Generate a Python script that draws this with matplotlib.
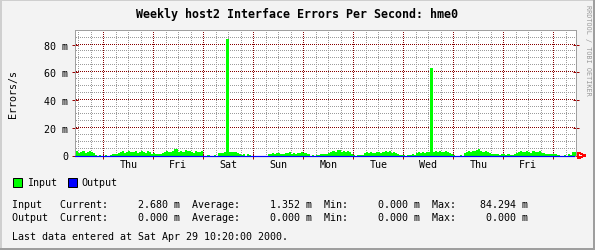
import matplotlib
matplotlib.use("Agg")
import matplotlib.pyplot as plt
from matplotlib.patches import Rectangle, Polygon
from matplotlib.transforms import blended_transform_factory
import numpy as np

# ---------------- data ----------------
title = "Weekly host2 Interface Errors Per Second: hme0"
y_label = "Errors/s"
day_labels = ["Thu", "Fri", "Sat", "Sun", "Mon", "Tue", "Wed", "Thu", "Fri"]
ytick_values = [0, 20, 40, 60, 80]
ytick_labels = ["0", "20 m", "40 m", "60 m", "80 m"]

# hourly input errors (milli errors/s), starting Wed Apr 19 2000 10:00
first_hour = 10
input_wed = [2.8, 3.2, 2.0, 2.5, 3.0, 1.8, 2.6, 3.4, 2.2, 1.5, 0.3, 0.0, 0.2, 0.0]
input_thu = [0.0, 0.3, 0.0, 0.5, 1.0, 1.4, 0.8, 1.5, 2.5, 3.0, 2.0, 2.8,
             3.4, 2.2, 2.6, 3.1, 2.0, 2.7, 3.3, 2.4, 1.8, 2.9, 2.2, 1.2]
input_fri = [1.5, 1.2, 0.8, 1.4, 2.0, 2.6, 3.0, 2.2, 2.8, 3.5, 4.6, 5.0,
             2.4, 3.2, 2.6, 4.2, 2.9, 3.4, 2.5, 2.0, 3.1, 2.4, 2.8, 3.0]
input_sat = [0.0, 0.0, 0.2, 0.0, 0.0, 0.3, 0.0, 1.5, 2.0, 1.6, 2.2, 2.0,
             2.5, 2.8, 2.2, 2.6, 2.0, 1.0, 0.6, 1.2, 0.0, 0.8, 0.5, 0.0]
input_sun = [0.0, 0.0, 0.0, 0.0, 0.0, 0.0, 0.0, 0.8, 1.2, 1.6, 1.0, 1.8,
             2.0, 1.4, 1.2, 1.9, 1.5, 2.2, 1.0, 1.6, 1.3, 2.0, 1.5, 2.2]
input_mon = [2.0, 1.8, 1.0, 0.0, 0.4, 0.0, 0.3, 0.6, 0.8, 1.0, 1.4, 1.2,
             1.6, 2.5, 3.0, 2.2, 3.8, 4.2, 2.8, 3.5, 2.4, 3.0, 2.6, 1.0]
input_tue = [0.3, 0.0, 0.5, 0.2, 0.6, 1.5, 2.2, 1.8, 2.6, 2.0, 1.6, 2.4,
             2.8, 1.9, 2.2, 3.0, 2.5, 3.4, 2.0, 2.6, 1.8, 0.8, 0.6, 0.5]
input_wed2 = [0.3, 0.0, 0.6, 0.2, 0.8, 0.5, 1.6, 2.4, 2.0, 2.8, 1.8, 2.5,
              2.2, 2.0, 2.6, 3.2, 2.4, 3.6, 2.8, 2.2, 3.0, 2.5, 2.0, 1.4]
input_thu2 = [0.2, 0.0, 0.0, 0.3, 0.0, 1.8, 2.6, 3.2, 2.4, 3.6, 3.0, 4.0,
              4.8, 3.4, 2.8, 3.5, 2.6, 2.0, 1.2, 0.8, 1.4, 1.0, 0.6, 1.0]
input_fri2 = [0.8, 0.5, 1.0, 0.6, 0.4, 0.8, 1.8, 2.4, 3.0, 2.2, 2.8, 3.4,
              2.5, 2.0, 3.2, 2.6, 2.2, 2.9, 2.0, 1.6, 1.2, 0.8, 1.4, 1.0]
input_sat2 = [1.0, 1.2, 0.6, 0.0, 0.0, 0.5, 0.0, 0.8, 0.3, 2.4, 2.68]

# short error bursts (hours since Wed Apr 19 00:00, milli errors/s)
spike_hours = [83.2, 181.2]
spike_values = [84.294, 62.9]

# legend / statistics
series_names = ["Input", "Output"]
series_colors = ["#00ff00", "#0000ff"]
stat_current = [2.680, 0.000]
stat_average = [1.352, 0.000]
stat_min = [0.000, 0.000]
stat_max = [84.294, 0.000]
last_update = "Sat Apr 29 10:20:00 2000"

# ---------------- figure ----------------
W, H = 595, 251
DPI = 100
PX = 72.0 / DPI  # one pixel in points

def fx(px):
    return px / W

def fy(py):
    return 1 - py / H

mono = "DejaVu Sans Mono"
fs = 7.2
bg = "#f3f3f3"

fig = plt.figure(figsize=(W / DPI, H / DPI), dpi=DPI, facecolor=bg)

# 3D-ish frame
fig.patches.append(Rectangle((0, fy(2)), 1, 2 / H, transform=fig.transFigure,
                             facecolor="#cfcfcf", edgecolor="none"))
fig.patches.append(Rectangle((0, 0), 2 / W, 1, transform=fig.transFigure,
                             facecolor="#cfcfcf", edgecolor="none"))
fig.patches.append(Rectangle((0, 0), 1, 2 / H, transform=fig.transFigure,
                             facecolor="#9e9e9e", edgecolor="none"))
fig.patches.append(Rectangle((1 - 2 / W, 0), 2 / W, 1, transform=fig.transFigure,
                             facecolor="#9e9e9e", edgecolor="none"))

ax_left, ax_right, ax_top, ax_bot = 75, 576, 31, 156.5
ax_w_px, ax_h_px = ax_right - ax_left, ax_bot - ax_top
ax = fig.add_axes([fx(ax_left), fy(ax_bot), ax_w_px / W, ax_h_px / H])
ax.set_facecolor("white")

x_start, x_end = 10.4, 250.9
y_top = 90.5
ax.set_xlim(x_start, x_end)
ax.set_ylim(0, y_top)
dx_px = (x_end - x_start) / ax_w_px   # hours per pixel
dy_px = y_top / ax_h_px               # m per pixel

# dotted grid drawn as single pixels every other pixel
grid_gray = "#9c9c9c"
grid_red = "#880000"
midnights = np.arange(24, 250, 24)
six_hours = [h for h in np.arange(12, 251, 6) if h % 24 != 0]
ys_dots = np.arange(dy_px, y_top, 2 * dy_px)
xs_dots = np.arange(x_start + dx_px, x_end, 2 * dx_px)

def vdots(h, col, z):
    ax.plot(np.full_like(ys_dots, h), ys_dots, ls="none", marker=",",
            color=col, zorder=z)

def hdots(v, col, z):
    ax.plot(xs_dots, np.full_like(xs_dots, v), ls="none", marker=",",
            color=col, zorder=z)

for h in six_hours:
    vdots(h, grid_gray, 1)
for v in np.arange(5, 90, 5):
    if v % 20 != 0:
        hdots(v, grid_gray, 1)
for h in midnights:
    vdots(h, grid_red, 1.5)
for v in ytick_values[1:]:
    hdots(v, grid_red, 1.5)

# input area
input_all = (input_wed + input_thu + input_fri + input_sat + input_sun + input_mon
             + input_tue + input_wed2 + input_thu2 + input_fri2 + input_sat2)
edges = first_hour + np.arange(len(input_all) + 1)
ax.stairs(input_all, edges, fill=True, color=series_colors[0], zorder=2,
          antialiased=False)
ax.vlines(spike_hours, 0, spike_values, color=series_colors[0], lw=1.2 * PX,
          zorder=2, antialiased=False)

# output line (zero)
output_all = [0.0] * len(input_all)
ax.step(np.clip(edges[:-1], x_start, x_end - 0.3), output_all, where="post",
        color=series_colors[1], lw=PX * 1.2, zorder=3, clip_on=False)

# spines
for s in ax.spines.values():
    s.set_color("#a0a0a0")
    s.set_linewidth(PX)
ax.spines["bottom"].set_zorder(2.5)

# ticks
ax.set_yticks(ytick_values)
ax.set_yticklabels(ytick_labels, fontfamily=mono, fontsize=fs)
ax.set_xticks(midnights)
ax.set_xticklabels([])
ax.tick_params(axis="y", which="major", direction="inout", length=6 * PX,
               width=PX, color="#990000", pad=4 * PX, left=True, right=True)
ax.tick_params(axis="x", which="major", direction="inout", length=6 * PX,
               width=PX, color="#990000")
ax.minorticks_off()

# day labels
trans = blended_transform_factory(ax.transData, fig.transFigure)
for i, lab in enumerate(day_labels):
    ax.text(24 * (i + 1) + 12, fy(165.5), lab, transform=trans, ha="center",
            va="center", fontfamily=mono, fontsize=fs, clip_on=False)

# arrow at end of x axis
arrow_col = "#ff0000"
fig.add_artist(Polygon([(fx(578), fy(153.5)), (fx(585), fy(156.5)),
                        (fx(578), fy(159.5))], closed=True, fill=False,
                       edgecolor=arrow_col, lw=PX, transform=fig.transFigure,
                       antialiased=False))
fig.add_artist(Polygon([(fx(576), fy(156.5)), (fx(582), fy(156.5))], closed=False,
                       fill=False, edgecolor=arrow_col, lw=PX,
                       transform=fig.transFigure, antialiased=False))

# title and labels
fig.text(fx(297.5), fy(15), title, ha="center", va="center", fontfamily=mono,
         fontsize=8.4, fontweight="bold")
fig.text(fx(13), fy(94), y_label, ha="center", va="center", rotation=90,
         fontfamily=mono, fontsize=fs)
fig.text(fx(588), fy(5), "RRDTOOL / TOBI OETIKER", ha="center", va="top",
         rotation=270, fontfamily=mono, fontsize=4.9, color="#999999")

# legend
box_x = [12.5, 67.5]
text_x = [27, 81]
for name, col, bx, tx in zip(series_names, series_colors, box_x, text_x):
    fig.patches.append(Rectangle((fx(bx), fy(187.5)), 9 / W, 8.5 / H,
                                 transform=fig.transFigure, facecolor=col,
                                 edgecolor="black", lw=PX))
    fig.text(fx(tx), fy(183.5), name, ha="left", va="center", fontfamily=mono,
             fontsize=fs)

# statistics
rows_y = [204.5, 218]
for name, cur, avg, mn, mx, ry in zip(series_names, stat_current, stat_average,
                                      stat_min, stat_max, rows_y):
    line = (f"{name:<8}Current:{cur:10.3f} m  Average:{avg:10.3f} m  "
            f"Min:{mn:10.3f} m  Max:{mx:10.3f} m")
    fig.text(fx(12), fy(ry), line, ha="left", va="center", fontfamily=mono,
             fontsize=fs)

fig.text(fx(12), fy(237.5), f"Last data entered at {last_update}.", ha="left",
         va="center", fontfamily=mono, fontsize=fs)

fig.savefig("out.png", dpi=DPI, facecolor=bg)
